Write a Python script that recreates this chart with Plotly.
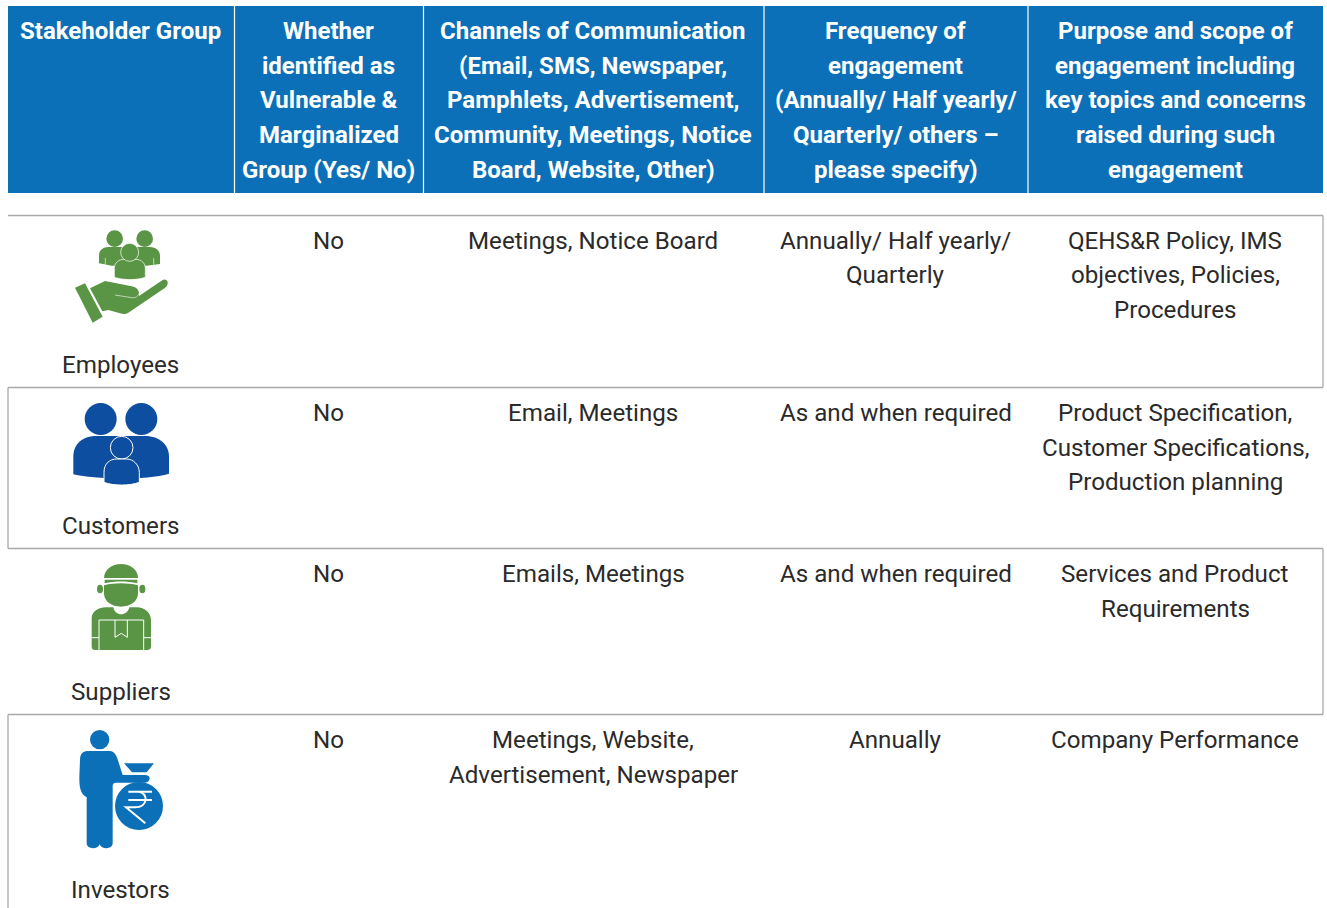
import re
import plotly.graph_objects as go

headers = [
    ["Stakeholder Group"],
    ["Whether", "identified as", "Vulnerable &", "Marginalized", "Group (Yes/ No)"],
    ["Channels of Communication", "(Email, SMS, Newspaper,", "Pamphlets, Advertisement,", "Community, Meetings, Notice", "Board, Website, Other)"],
    ["Frequency of", "engagement", "(Annually/ Half yearly/", "Quarterly/ others \u2013", "please specify)"],
    ["Purpose and scope of", "engagement including", "key topics and concerns", "raised during such", "engagement"],
]
groups = ["Employees", "Customers", "Suppliers", "Investors"]
vulnerable = ["No", "No", "No", "No"]
channels = [["Meetings, Notice Board"], ["Email, Meetings"], ["Emails, Meetings"], ["Meetings, Website,", "Advertisement, Newspaper"]]
frequency = [["Annually/ Half yearly/", "Quarterly"], ["As and when required"], ["As and when required"], ["Annually"]]
purpose = [
    ["QEHS&R Policy, IMS", "objectives, Policies,", "Procedures"],
    ["Product Specification,", "Customer Specifications,", "Production planning"],
    ["Services and Product", "Requirements"],
    ["Company Performance"],
]

W, H = 1327, 908
FONT = "Roboto"
BLUE = "#0c70b8"
NAVY = "#0d4ea0"
GREEN = "#5a9545"
GREY = "#a9a9a9"
INK = "#2b2a2b"
LEFT, RIGHT, HEAD_TOP, HEAD_BOT = 8, 1323, 6, 193
SEPS = [234.5, 423.5, 764, 1028]
CENTERS = [120.9, 328.9, 593.4, 895.8, 1175.4]
ROW_Y = [215.5, 387.5, 548.5, 714.5, 908]
ROW_TEXT_Y = [240.9, 413.1, 574.1, 740.1]
NAME_Y = [365, 526, 692, 890]
HEAD_LINE_Y = [31, 65.5, 100, 134.5, 169.5]
BODY_STEP = 34.5

shapes, annotations = [], []


def rect(x0, y0, x1, y1, color):
    shapes.append(dict(type="rect", xref="x", yref="y", x0=x0, y0=y0, x1=x1, y1=y1,
                       fillcolor=color, line=dict(width=0), layer="above"))


def seg(x0, y0, x1, y1, color, width):
    shapes.append(dict(type="line", xref="x", yref="y", x0=x0, y0=y0, x1=x1, y1=y1,
                       line=dict(color=color, width=width), layer="above"))


def conv(d, ox, oy):
    """Icon outlines are drawn at 3x; bring them to the chart's axis units."""
    out, is_x = [], True
    for tok in re.findall(r"[A-Za-z]|-?\d+\.?\d*", d):
        if tok.isalpha():
            out.append(tok)
            is_x = True
        else:
            v = float(tok) / 3 + (ox if is_x else oy)
            out.append(f"{v:.2f}")
            is_x = not is_x
    return " ".join(out)


def path(d, ox, oy, fill=None, line=None, width=0):
    shapes.append(dict(type="path", xref="x", yref="y", path=conv(d, ox, oy),
                       fillcolor=fill if fill else "rgba(0,0,0,0)",
                       line=dict(color=line if line else "rgba(0,0,0,0)", width=width),
                       layer="above"))


def circ(cx, cy, rx, ry, ox, oy, fill, line=None, width=0):
    shapes.append(dict(type="circle", xref="x", yref="y",
                       x0=(cx - rx) / 3 + ox, x1=(cx + rx) / 3 + ox,
                       y0=(cy - ry) / 3 + oy, y1=(cy + ry) / 3 + oy,
                       fillcolor=fill,
                       line=dict(color=line if line else "rgba(0,0,0,0)", width=width),
                       layer="above"))


def text(x, y, s, color=INK, bold=False, size=24.15):
    annotations.append(dict(x=x, y=y, xref="x", yref="y", text=f"<b>{s}</b>" if bold else s,
                            showarrow=False, xanchor="center", yanchor="middle", align="center",
                            font=dict(family=FONT, size=size, color=color)))


# header band
rect(LEFT, HEAD_TOP, RIGHT, HEAD_BOT, BLUE)
for sx in SEPS:
    seg(sx, HEAD_TOP, sx, HEAD_BOT, "#ffffff", 1.2)
for cx, lines in zip(CENTERS, headers):
    for y, s in zip(HEAD_LINE_Y, lines):
        text(cx, y, s, "#ffffff", bold=True, size=24)

# row rules and alternating side borders
for y in ROW_Y[:4]:
    seg(LEFT, y, RIGHT, y, GREY, 1.3)
for i in range(4):
    sx = RIGHT if i % 2 == 0 else LEFT
    seg(sx, ROW_Y[i], sx, ROW_Y[i + 1], GREY, 1.3)

# row text
for i in range(4):
    text(CENTERS[0], NAME_Y[i], groups[i])
    text(CENTERS[1], ROW_TEXT_Y[i], vulnerable[i])
    for col, cells in ((2, channels), (3, frequency), (4, purpose)):
        for k, s in enumerate(cells[i]):
            text(CENTERS[col], ROW_TEXT_Y[i] + k * BODY_STEP, s)

# Employees icon
ox, oy = 0, 200
circ(344, 116, 25, 25, ox, oy, GREEN)
circ(434, 116, 25, 25, ox, oy, GREEN)
path("M297 190 L297 165 C297 150 310 141 325 141 L450 141 C468 141 480 152 480 168 L480 192 L440 197 L335 197 Z", ox, oy, GREEN)
seg(105.3, 258, 105.3, 266, "#ffffff", 0.6)
seg(153.7, 258, 153.7, 266, "#ffffff", 0.6)
path("M343 232 L343 205 C343 188 357 178 372 178 L408 178 C424 178 436 190 436 205 L436 232 C410 241 370 241 343 232 Z", ox, oy, GREEN, "#ffffff", 0.7)
circ(389, 157, 27, 27, ox, oy, GREEN, "#ffffff", 0.7)
path("M225 263 L255 250 L308 350 L278 368 Z", ox, oy, GREEN)
path("M270 265 L315 243 L395 259 C412 262 420 275 417 288 L488 240 C498 234 507 245 502 254 C500 260 495 264 490 267 L385 338 C378 343 368 342 360 340 L325 330 L307 334 Z", ox, oy, GREEN)
path("M345 285 L395 293 C408 295 415 288 418 278", ox, oy, None, "#ffffff", 0.6)

# Customers icon
ox, oy = 0, 385
circ(302, 102, 48, 48, ox, oy, NAVY)
circ(424, 102, 48, 48, ox, oy, NAVY)
path("M220 268 L220 215 C220 175 250 153 290 153 L435 153 C480 153 507 180 507 215 L507 266 C440 285 290 285 220 268 Z", ox, oy, NAVY)
circ(365, 188, 34, 34, ox, oy, NAVY, "#ffffff", 1)
path("M312 292 L312 262 C312 235 330 222 350 222 L380 222 C400 222 418 240 418 262 L418 292 C390 303 340 303 312 292 Z", ox, oy, NAVY, "#ffffff", 1)

# Suppliers icon
ox, oy = 0, 550
circ(300, 117, 9, 13, ox, oy, GREEN)
circ(427, 117, 9, 13, ox, oy, GREEN)
path("M312 84 C312 60 335 42 363 42 C392 42 414 60 414 84 Z", ox, oy, GREEN)
path("M314 89 L412 89 L412 100 C380 93 345 93 314 100 Z", ox, oy, GREEN)
path("M312 106 C345 98 380 98 414 106 L414 130 C414 155 390 170 363 170 C335 170 312 155 312 130 Z", ox, oy, GREEN)
path("M340 172 C345 200 382 200 388 172 L410 172 C435 172 453 190 453 210 L453 290 C453 296 448 300 442 300 L285 300 C279 300 275 296 275 290 L275 205 C275 185 295 172 318 172 Z", ox, oy, GREEN)
path("M297 300 L297 210 L431 210 L431 300", ox, oy, None, "#ffffff", 1)
path("M345 210 L345 262 L364 250 L382 262 L382 210", ox, oy, None, "#ffffff", 1)
path("M275 263 L297 263 M431 263 L453 263", ox, oy, None, "#ffffff", 1)

# Investors icon
ox, oy = 0, 710
circ(299, 89, 29, 29, ox, oy, BLUE)
path("M240 150 C240 130 250 123 265 123 L330 123 C342 123 348 135 352 145 L368 195 L435 195 C455 195 452 217 435 218 L350 218 C340 218 338 222 338 230 L338 400 C338 418 305 420 299 403 C293 420 260 418 260 400 L260 262 C240 250 238 230 238 200 Z", ox, oy, BLUE)
path("M372 160 L462 160 L440 187 L396 187 Z", ox, oy, BLUE)
circ(417, 288, 72, 72, ox, oy, BLUE)
path("M385 245 L456 245 M385 270 L456 270", ox, oy, None, "#ffffff", 2)
path("M418 245 C445 250 445 292 405 292 L378 292 L436 340", ox, oy, None, "#ffffff", 2)

fig = go.Figure()
fig.add_trace(go.Scatter(x=[0, W], y=[0, H], mode="markers", marker=dict(opacity=0), hoverinfo="skip", showlegend=False))
fig.update_layout(
    width=W, height=H, margin=dict(l=0, r=0, t=0, b=0),
    paper_bgcolor="#ffffff", plot_bgcolor="#ffffff",
    xaxis=dict(range=[0, W], visible=False, fixedrange=True),
    yaxis=dict(range=[H, 0], visible=False, fixedrange=True),
    shapes=shapes, annotations=annotations, showlegend=False,
)
fig.write_html("out.html", config=dict(displayModeBar=False),
               post_script="document.body.style.margin='0';document.body.style.overflow='hidden';")
